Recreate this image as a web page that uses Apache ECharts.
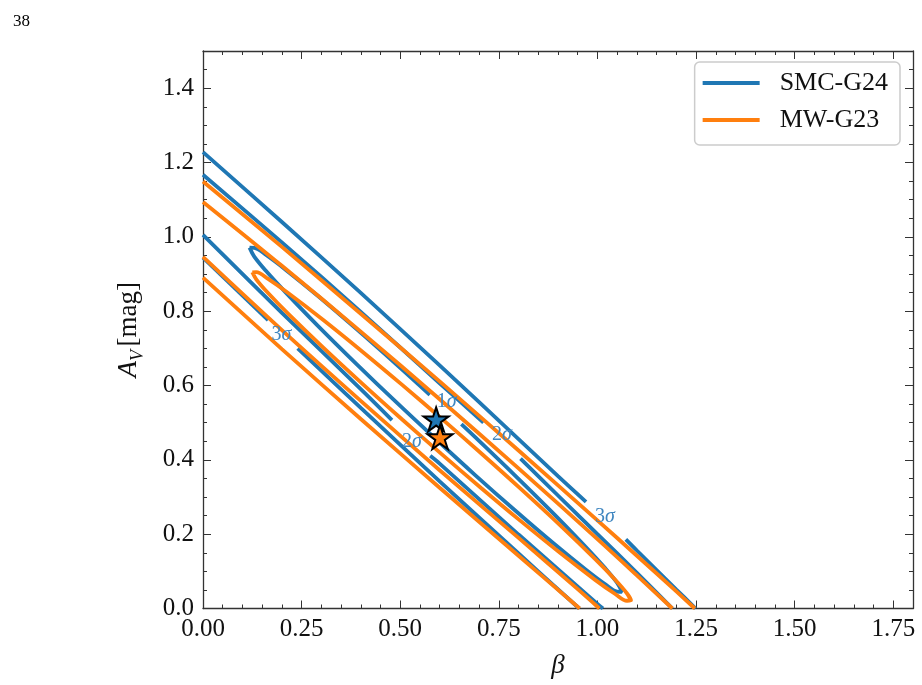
<!DOCTYPE html>
<html><head><meta charset="utf-8">
<script src="https://cdn.jsdelivr.net/npm/echarts@6/dist/echarts.min.js"></script>
<style>html,body{margin:0;padding:0;background:#fff}#c{width:922px;height:685px}</style>
</head><body><div id="c"></div>
<script>
// ---- data ----
const xRange = [0, 1.8];
const yRange = [0, 1.5];

// SMC-G24 contours (blue); null = gap left by an inline contour label
const smc1Beta = [0.118,0.13,0.16,0.21,0.29,0.39,0.49,0.575,null,0.655,0.69,0.79,0.89,0.97,1.02,1.05,1.062,1.05,1.02,0.97,0.89,0.79,0.69,0.59,0.49,0.39,0.29,0.21,0.16,0.13,0.118];
const smc1Av   = [0.971,0.9705,0.951,0.911,0.842,0.751,0.657,0.575,null,0.496,0.461,0.359,0.254,0.166,0.108,0.069,0.045,0.0455,0.065,0.105,0.174,0.265,0.359,0.456,0.555,0.657,0.762,0.850,0.908,0.947,0.971];
const smc2UpBeta = [0,0.2,0.4,0.6,0.711,null,0.805,0.9,1.0,1.1,1.19];
const smc2UpAv   = [1.167,0.985,0.798,0.606,0.500,null,0.403,0.304,0.200,0.096,0];
const smc2LoBeta = [0,0.2,0.4,0.479,null,0.576,0.6,0.8,1.0,1.014];
const smc2LoAv   = [1.005,0.7955,0.5904,0.507,null,0.411,0.390,0.199,0.0125,0];
const smc3UpBeta = [0,0.2,0.4,0.6,0.8,0.9,0.971,null,1.072,1.1,1.2,1.249];
const smc3UpAv   = [1.228,1.040,0.849,0.654,0.456,0.356,0.287,null,0.186,0.156,0.051,0];
const smc3LoBeta = [0,0.165,null,0.24,0.4,0.6,0.8,0.954];
const smc3LoAv   = [0.944,0.776,null,0.700,0.540,0.342,0.148,0];

// MW-G23 contours (orange)
const mw1Beta = [0.125,0.135,0.165,0.215,0.305,0.405,0.505,0.605,0.705,0.805,0.905,0.995,1.045,1.075,1.085,1.075,1.045,0.995,0.905,0.805,0.705,0.605,0.505,0.405,0.305,0.215,0.165,0.135,0.125];
const mw1Av   = [0.9046,0.9051,0.8869,0.8496,0.7762,0.6903,0.6016,0.5107,0.4176,0.3223,0.2242,0.132,0.0773,0.0403,0.0214,0.0209,0.0391,0.0764,0.1498,0.2357,0.3244,0.4153,0.5084,0.6037,0.7018,0.794,0.8487,0.8857,0.9046];
const mw2UpBeta = [0,0.2,0.4,0.6,0.8,1.0,1.1,1.19];
const mw2UpAv   = [1.094,0.922,0.745,0.563,0.377,0.1865,0.089,0];
const mw2LoBeta = [0,0.2,0.4,0.6,0.8,0.95,1.005];
const mw2LoAv   = [0.946,0.749,0.5585,0.372,0.190,0.052,0];
const mw3UpBeta = [0,0.2,0.4,0.6,0.8,1.0,1.1,1.2,1.247];
const mw3UpAv   = [1.149,0.973,0.793,0.611,0.425,0.237,0.142,0.046,0];
const mw3LoBeta = [0,0.2,0.4,0.6,0.8,0.955];
const mw3LoAv   = [0.890,0.698,0.510,0.325,0.142,0];

// best-fit stars
const starNames = ['SMC-G24', 'MW-G23'];
const starBeta = [0.591, 0.601];
const starAv   = [0.509, 0.461];

// inline contour labels (SMC-G24)
const labelText = ['3σ', '3σ', '2σ', '2σ', '1σ'];
const labelBeta = [0.199, 1.019, 0.758, 0.530, 0.618];
const labelAv   = [0.736, 0.247, 0.467, 0.449, 0.557];

// ---- chart ----
const BLUE = '#1f77b4', ORANGE = '#ff7f0e';
const FONT = 'Liberation Serif, DejaVu Serif, serif';
const STAR = 'path://M50,0 L61.23,34.55 L97.55,34.55 L68.17,55.9 L79.39,90.45 L50,69.1 L20.61,90.45 L31.83,55.9 L2.45,34.55 L38.77,34.55 Z';

function segments(bs, as) {
  const out = []; let cur = [];
  for (let i = 0; i < bs.length; i++) {
    if (bs[i] === null) { if (cur.length) out.push(cur); cur = []; }
    else cur.push([bs[i], as[i]]);
  }
  if (cur.length) out.push(cur);
  return out;
}
const contours = [
  ['SMC-G24', BLUE, smc1Beta, smc1Av],
  ['SMC-G24', BLUE, smc2UpBeta, smc2UpAv],
  ['SMC-G24', BLUE, smc2LoBeta, smc2LoAv],
  ['SMC-G24', BLUE, smc3UpBeta, smc3UpAv],
  ['SMC-G24', BLUE, smc3LoBeta, smc3LoAv],
  ['MW-G23', ORANGE, mw1Beta, mw1Av],
  ['MW-G23', ORANGE, mw2UpBeta, mw2UpAv],
  ['MW-G23', ORANGE, mw2LoBeta, mw2LoAv],
  ['MW-G23', ORANGE, mw3UpBeta, mw3UpAv],
  ['MW-G23', ORANGE, mw3LoBeta, mw3LoAv]
];
const series = [];
contours.forEach(([name, color, bs, as]) => {
  segments(bs, as).forEach(seg => {
    series.push({
      type: 'line', name, data: seg, symbol: 'none', showSymbol: false, smooth: 0.35,
      lineStyle: { color, width: 3.8 }, itemStyle: { color },
      z: color === BLUE ? 2 : 3, silent: true
    });
  });
});
series.push({
  type: 'scatter', name: 'labels', silent: true, z: 4,
  data: labelText.map((t, i) => ({ value: [labelBeta[i], labelAv[i]], name: t })),
  symbolSize: 1, itemStyle: { color: 'rgba(0,0,0,0)' },
  label: {
    show: true, position: 'inside', opacity: 1,
    formatter: p => '{n|' + p.name.charAt(0) + '}{s|' + p.name.charAt(1) + '}',
    rich: {
      n: { fontFamily: FONT, fontSize: 20, color: '#3f86c0' },
      s: { fontFamily: FONT, fontSize: 20, fontStyle: 'italic', color: '#3f86c0' }
    }
  }
});
starNames.forEach((n, i) => {
  series.push({
    type: 'scatter', name: n + ' best', silent: true, z: 10 + i,
    data: [[starBeta[i], starAv[i]]],
    symbol: STAR, symbolSize: 25, symbolKeepAspect: true,
    itemStyle: { color: i === 0 ? BLUE : ORANGE, borderColor: '#000', borderWidth: 2, opacity: 1 }
  });
});

function near(v, step) { return Math.abs(v / step - Math.round(v / step)) < 1e-6; }
const axisCommon = {
  type: 'value', splitLine: { show: false },
  axisLine: { show: true, onZero: false, lineStyle: { color: '#333', width: 1.3 } },
  axisTick: { show: true, inside: true, length: 8, lineStyle: { color: '#333', width: 1 } },
  minorTick: { show: true, length: 4, lineStyle: { color: '#333', width: 1 } }
};
const chart = echarts.init(document.getElementById('c'), null, { renderer: 'canvas' });
chart.setOption({
  animation: false,
  backgroundColor: '#fff',
  title: { text: '38', left: 8, top: 8, textStyle: { fontFamily: FONT, fontSize: 17, fontWeight: 'normal', color: '#000' } },
  grid: { left: 203, top: 51, width: 710, height: 557.5 },
  legend: {
    data: ['SMC-G24', 'MW-G23'], right: 22, top: 62, orient: 'vertical',
    icon: 'rect', itemWidth: 57, itemHeight: 4, itemGap: 7,
    padding: [6, 12, 10, 8],
    borderColor: '#cccccc', borderWidth: 1.5, borderRadius: 5, backgroundColor: 'rgba(255,255,255,0.8)',
    textStyle: { fontFamily: FONT, fontSize: 26, color: '#111', lineHeight: 30, padding: [0, 0, 0, 15] }
  },
  xAxis: [
    Object.assign({}, axisCommon, {
      min: xRange[0], max: xRange[1], interval: 0.25, position: 'bottom',
      minorTick: Object.assign({}, axisCommon.minorTick, { splitNumber: 5 }),
      axisLabel: { show: true, margin: 8, fontFamily: FONT, fontSize: 25, color: '#111',
        formatter: v => near(v, 0.25) ? v.toFixed(2) : '' },
      name: 'β', nameLocation: 'middle', nameGap: 44,
      nameTextStyle: { fontFamily: FONT, fontSize: 27, fontStyle: 'italic', color: '#111' }
    }),
    Object.assign({}, axisCommon, {
      min: xRange[0], max: xRange[1], interval: 0.25, position: 'top',
      minorTick: Object.assign({}, axisCommon.minorTick, { splitNumber: 5 }),
      axisLabel: { show: false }
    })
  ],
  yAxis: [
    Object.assign({}, axisCommon, {
      min: yRange[0], max: yRange[1], interval: 0.2, position: 'left',
      minorTick: Object.assign({}, axisCommon.minorTick, { splitNumber: 4 }),
      axisLabel: { show: true, margin: 9, fontFamily: FONT, fontSize: 25, color: '#111',
        formatter: v => near(v, 0.2) ? v.toFixed(1) : '' },
      name: '{a|A}{v|V} {b|[mag]}', nameLocation: 'middle', nameGap: 56, nameRotate: 90,
      nameTextStyle: {
        color: '#111',
        rich: {
          a: { fontFamily: FONT, fontSize: 27, fontStyle: 'italic', lineHeight: 36, verticalAlign: 'middle', color: '#111' },
          v: { fontFamily: FONT, fontSize: 18, fontStyle: 'italic', lineHeight: 36, verticalAlign: 'bottom', color: '#111' },
          b: { fontFamily: FONT, fontSize: 27, lineHeight: 36, verticalAlign: 'middle', color: '#111' }
        }
      }
    }),
    Object.assign({}, axisCommon, {
      min: yRange[0], max: yRange[1], interval: 0.2, position: 'right',
      minorTick: Object.assign({}, axisCommon.minorTick, { splitNumber: 4 }),
      axisLabel: { show: false }
    })
  ],
  series
});
</script></body></html>
